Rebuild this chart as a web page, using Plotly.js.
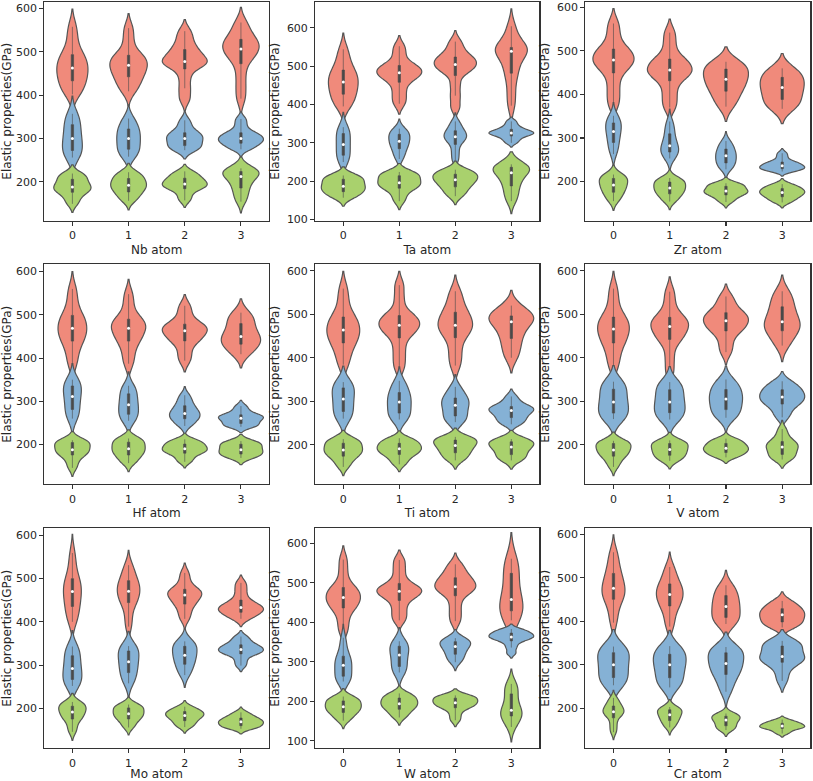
<!DOCTYPE html>
<html><head><meta charset="utf-8">
<script src="https://cdn.plot.ly/plotly-3.0.1.min.js"></script>
<style>html,body{margin:0;padding:0;background:#fff}#chart{width:813px;height:781px}</style>
</head><body><div id="chart"></div>
<script>
// ---- data (samples, 13 per violin) ----
const categories = [0, 1, 2, 3];
const tickLabels = ['0', '1', '2', '3'];
const panels = ['Nb', 'Ta', 'Zr', 'Hf', 'Ti', 'V', 'Mo', 'W', 'Cr'];
const yTitle = 'Elastic properties(GPa)';

const nbRed = [[402,414,425,436,445,455,463,472,481,491,502,530,558],[409,422,435,445,453,462,469,476,483,490,499,527,555],[391,416,442,467,471,475,478,486,494,503,513,530,548],[392,421,451,480,489,499,507,513,520,527,535,552,568]];
const nbBlue = [[256,262,267,274,283,292,300,309,319,329,341,349,357],[258,264,270,277,285,293,300,306,313,320,328,337,346],[273,276,279,285,290,295,300,304,308,312,317,330,342],[275,280,286,290,294,297,300,304,308,312,317,331,345]];
const nbGreen = [[149,160,172,177,181,185,188,193,198,204,211,215,219],[156,164,172,178,183,188,192,196,201,206,212,217,222],[157,169,181,185,189,192,195,199,203,207,212,218,224],[154,166,178,188,196,205,212,216,219,223,226,229,231]];

const taRed = [[395,406,418,430,440,450,459,468,477,487,498,521,544],[402,422,443,463,470,477,483,488,494,500,507,530,552],[393,423,453,483,490,497,504,510,516,522,529,546,564],[397,431,466,487,505,523,539,542,545,548,551,578,604]];
const taBlue = [[250,255,261,270,279,288,296,304,313,322,331,336,341],[258,268,278,287,293,299,304,310,316,321,326,331,337],[253,269,284,300,306,311,316,320,325,330,336,346,356],[300,308,314,319,322,324,326,328,331,334,339,346,356]];
const taGreen = [[157,163,169,174,179,183,187,192,198,204,209,212,215],[148,163,178,183,188,192,196,201,207,213,218,221,224],[161,170,180,187,193,199,204,208,212,217,222,226,230],[148,163,178,191,202,212,222,226,230,235,240,242,244]];

const zrRed = [[377,403,430,456,464,472,479,486,494,502,511,537,563],[370,392,415,437,444,450,456,463,471,479,488,515,542],[372,386,400,410,419,427,435,442,449,456,465,470,475],[367,374,381,391,400,408,416,423,430,437,446,453,460]];
const zrBlue = [[263,273,283,292,300,308,315,321,327,333,339,345,351],[253,258,264,269,274,278,282,290,298,307,317,328,338],[228,234,239,244,249,254,259,263,268,273,279,286,293],[223,226,228,230,232,234,236,239,241,244,247,256,265]];
const zrGreen = [[155,163,171,177,182,187,192,196,201,206,210,213,216],[154,161,168,173,177,181,185,189,193,198,201,205,208],[153,160,167,170,173,176,178,180,184,188,192,194,196],[152,157,162,166,169,172,175,177,180,183,186,190,194]];

const hfRed = [[385,408,431,442,451,461,469,477,487,496,507,534,560],[387,409,431,442,451,461,469,475,481,488,496,522,548],[394,413,433,442,449,456,463,467,472,477,483,502,521],[409,418,427,434,440,445,450,458,468,477,488,497,505]];
const hfBlue = [[260,266,273,284,293,303,311,318,326,334,340,345,350],[255,260,264,272,279,286,292,299,307,315,324,330,336],[243,250,256,261,265,269,272,277,282,288,295,305,314],[241,243,245,250,254,258,261,263,266,268,271,280,289]];
const hfGreen = [[146,159,172,177,181,185,188,193,198,204,206,208,210],[157,164,172,177,182,186,190,194,199,204,210,212,214],[160,168,177,181,184,187,190,193,197,200,204,208,212],[169,172,175,179,182,185,188,192,196,200,203,205,208]];

const tiRed = [[384,405,426,437,446,456,464,472,482,491,502,530,559],[377,402,427,452,460,468,475,481,488,495,503,535,567],[382,405,429,452,460,468,475,483,493,502,513,533,553],[400,417,434,448,460,472,483,487,491,495,500,510,520]];
const tiBlue = [[260,264,269,279,288,297,305,312,321,329,336,340,344],[258,262,266,275,283,291,298,304,311,318,326,337,347],[252,256,261,268,276,284,291,296,301,306,312,323,333],[247,252,258,264,269,274,279,281,284,287,290,300,311]];
const tiGreen = [[149,160,170,175,180,184,188,192,197,202,208,211,213],[155,165,174,179,183,187,191,194,198,202,207,211,215],[164,170,177,183,188,193,198,202,206,210,213,215,218],[164,168,172,179,185,190,195,198,202,206,209,211,213]];

const vRed = [[380,402,425,437,447,457,466,474,482,491,501,530,559],[368,401,434,445,454,464,472,478,484,491,499,525,552],[413,434,455,464,471,478,485,490,496,502,509,525,541],[428,442,456,464,471,477,483,493,504,514,527,540,553]];
const vBlue = [[259,262,266,275,283,291,298,306,316,325,336,340,345],[258,263,267,276,284,291,298,306,315,324,334,339,344],[262,268,274,283,291,298,305,311,318,325,333,341,350],[263,276,289,295,300,305,310,315,320,325,331,338,346]];
const vGreen = [[149,160,170,175,180,184,188,192,197,202,205,207,209],[163,167,172,177,181,185,189,193,197,202,205,207,210],[171,175,179,183,186,189,192,195,198,202,206,210,214],[166,169,174,179,185,190,195,198,202,206,211,223,236]];

const moRed = [[400,413,426,439,450,460,470,478,488,497,508,534,559],[389,413,437,447,455,464,471,478,485,493,502,516,531],[407,421,435,443,450,456,462,466,470,474,479,496,513],[407,413,419,423,427,430,433,437,442,447,460,475,490]];
const moBlue = [[252,256,261,269,277,285,292,300,310,319,330,337,343],[258,267,276,285,293,301,308,315,323,331,338,341,344],[277,286,296,304,311,317,323,329,335,342,348,351,355],[299,311,323,327,330,333,336,339,342,346,350,358,366]];
const moGreen = [[146,158,171,177,182,187,192,196,200,204,209,212,215],[156,164,172,177,181,185,188,192,196,200,205,207,209],[157,162,168,173,177,181,184,186,189,192,195,199,204],[153,156,158,161,164,167,169,171,174,177,180,185,191]];

const wRed = [[378,403,429,439,447,456,463,470,478,486,495,527,559],[405,423,442,460,467,473,479,484,489,494,512,535,558],[403,426,450,473,479,485,490,497,504,511,519,533,547],[405,415,423,431,441,450,458,478,498,520,536,549,561]];
const wBlue = [[250,253,256,266,275,283,291,298,305,312,321,341,361],[273,276,280,291,300,309,317,324,331,338,344,348,352],[299,306,314,321,327,333,339,342,346,350,354,357,360],[322,336,347,355,358,361,363,366,369,372,375,379,383]];
const wGreen = [[151,160,168,173,178,182,186,190,195,200,204,208,212],[159,167,176,181,186,190,194,198,202,207,212,216,220],[152,166,180,185,189,193,196,199,203,207,211,213,215],[135,147,159,164,169,173,177,189,202,215,230,237,244]];

const crRed = [[397,420,444,453,461,469,476,486,496,507,520,540,559],[388,408,428,438,446,455,462,469,476,484,493,509,525],[394,398,403,411,419,427,434,441,449,457,466,475,483],[386,390,395,400,405,410,415,419,423,428,433,440,447]];
const crBlue = [[253,258,264,273,282,292,300,309,318,326,334,338,342],[248,255,262,273,282,292,300,307,314,322,331,337,343],[238,255,271,280,288,296,303,310,318,326,333,337,341],[263,283,302,307,311,315,319,326,334,342,347,351,355]];
const crGreen = [[145,157,169,181,185,189,192,196,200,204,209,216,224],[156,162,168,173,177,181,185,188,192,196,198,200,203],[150,153,156,161,165,169,173,176,178,181,184,186,188],[142,147,152,154,156,157,159,161,163,165,167,170,174]];

const panelSeries = {
  Nb: [nbRed, nbBlue, nbGreen], Ta: [taRed, taBlue, taGreen], Zr: [zrRed, zrBlue, zrGreen],
  Hf: [hfRed, hfBlue, hfGreen], Ti: [tiRed, tiBlue, tiGreen], V: [vRed, vBlue, vGreen],
  Mo: [moRed, moBlue, moGreen], W: [wRed, wBlue, wGreen], Cr: [crRed, crBlue, crGreen]
};

// ---- styling / layout ----
const fillColors = ['#F08A7B', '#85B1D5', '#A9D16D'];
const edgeColor = '#555555';
const boxColor = '#4a4a4a';
const colDomains = [[0.0545, 0.3309], [0.3878, 0.6634], [0.7200, 0.9967]];
const rowDomains = [[0.7174, 0.9978], [0.3799, 0.6616], [0.0419, 0.3235]];
const yRanges = {Nb:[110,616], Ta:[97,668], Zr:[110,613], Hf:[108,617], Ti:[109,615], V:[109,615], Mo:[108,616], W:[81,638], Cr:[108,614]};
const maxViolinWidth = 0.8;   // seaborn default width, in category units
const boxWidthData = 0.042;   // inner box thickness in category units
const bwFactor = 0.5;

function quant(sorted, p) {
  const pos = (sorted.length - 1) * p, lo = Math.floor(pos), hi = Math.ceil(pos);
  return sorted[lo] + (sorted[hi] - sorted[lo]) * (pos - lo);
}
function kdeMax(samples, bw) {
  const lo = Math.min(...samples) - 3 * bw, hi = Math.max(...samples) + 3 * bw;
  let best = 0;
  for (let k = 0; k <= 500; k++) {
    const y = lo + (hi - lo) * k / 500;
    let s = 0;
    for (const v of samples) { const u = (y - v) / bw; s += Math.exp(-0.5 * u * u); }
    if (s > best) best = s;
  }
  return best / (samples.length * bw);
}

const traces = [];
const dotTraces = [];
const layout = {
  width: 813, height: 781, margin: {l: 0, r: 0, t: 0, b: 0},
  paper_bgcolor: '#ffffff', plot_bgcolor: '#ffffff', showlegend: false,
  violinmode: 'overlay',
  font: {family: 'DejaVu Sans, sans-serif', size: 11, color: '#262626'}
};

panels.forEach((p, i) => {
  const ax = i === 0 ? '' : String(i + 1);
  const col = i % 3, row = Math.floor(i / 3);
  layout['xaxis' + ax] = {
    domain: colDomains[col], anchor: 'y' + ax, type: 'linear', range: [-0.5, 3.5],
    tickvals: categories, ticktext: tickLabels, ticks: 'outside', ticklen: 4, tickwidth: 1.1, tickcolor: '#333',
    showline: true, mirror: true, linecolor: '#333', linewidth: 1.2, showgrid: false, zeroline: false,
    tickfont: {size: 11, color: '#262626'},
    title: {text: p + ' atom', font: {size: 12, color: '#262626'}, standoff: 4}
  };
  layout['yaxis' + ax] = {
    domain: rowDomains[row], anchor: 'x' + ax, range: yRanges[p], dtick: 100, tick0: 0,
    ticks: 'outside', ticklen: 4, tickwidth: 1.1, tickcolor: '#333',
    showline: true, mirror: true, linecolor: '#333', linewidth: 1.2, showgrid: false, zeroline: false,
    tickfont: {size: 11, color: '#262626'},
    title: {text: yTitle, font: {size: 12, color: '#262626'}, standoff: 4}
  };
  panelSeries[p].forEach((series, s) => {
    // seaborn "area" scaling: width proportional to each violin's density peak within a series
    const info = series.map(samples => {
      const sorted = samples.slice().sort((a, b) => a - b);
      const bw = bwFactor * (quant(sorted, 0.75) - quant(sorted, 0.25)) / 1.349;
      return {sorted, bw, peak: kdeMax(samples, bw)};
    });
    const topPeak = Math.max(...info.map(d => d.peak));
    const medX = [], medY = [];
    series.forEach((samples, c) => {
      const d = info[c];
      const w = maxViolinWidth * d.peak / topPeak;
      traces.push({
        type: 'violin', x: samples.map(() => categories[c]), y: samples,
        xaxis: 'x' + ax, yaxis: 'y' + ax, orientation: 'v',
        width: w, scalegroup: p + '_' + s + '_' + c, scalemode: 'width', bandwidth: d.bw, spanmode: 'soft',
        points: false, fillcolor: fillColors[s], line: {color: edgeColor, width: 1.2},
        box: {visible: true, width: Math.min(1, boxWidthData / w), fillcolor: boxColor, line: {color: boxColor, width: 0.6}},
        meanline: {visible: false}, hoverinfo: 'skip', showlegend: false
      });
      medX.push(categories[c]); medY.push(quant(d.sorted, 0.5));
    });
    dotTraces.push({
      type: 'scatter', mode: 'markers', x: medX, y: medY, xaxis: 'x' + ax, yaxis: 'y' + ax,
      marker: {color: '#ffffff', size: 3, line: {width: 0}}, hoverinfo: 'skip', showlegend: false
    });
  });
});

Plotly.newPlot('chart', traces.concat(dotTraces), layout, {staticPlot: true, displayModeBar: false});
</script>
</body></html>
